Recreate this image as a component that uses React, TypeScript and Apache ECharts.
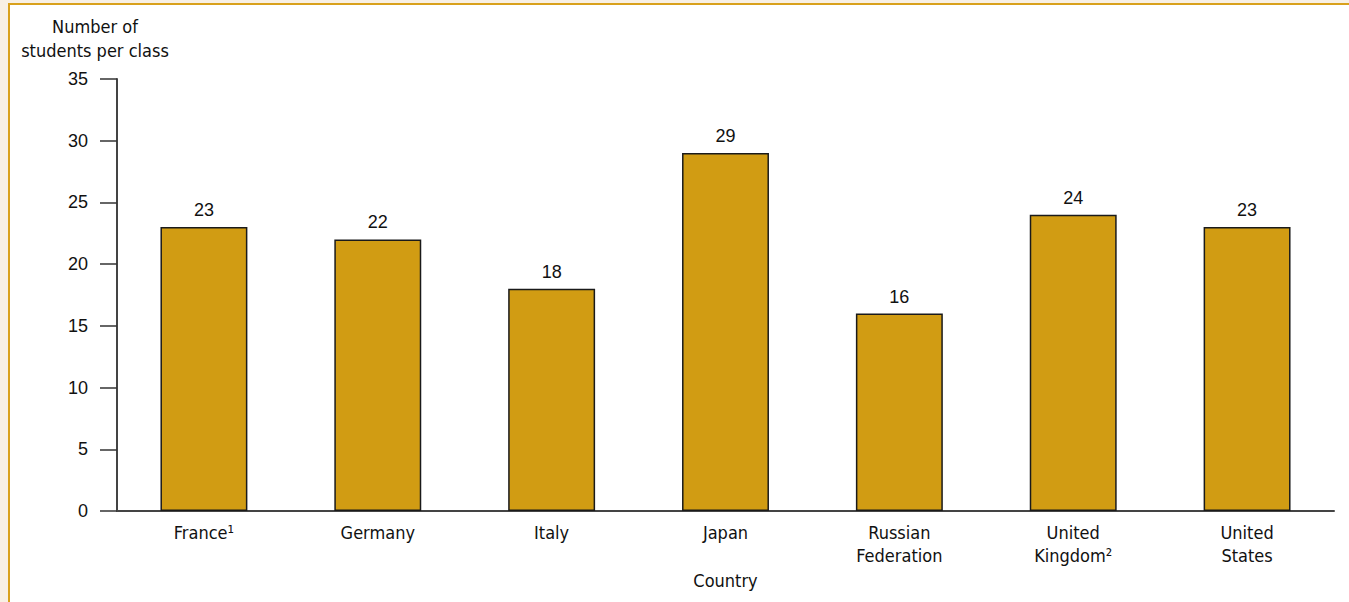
import React, { useEffect, useRef } from "react";
import * as echarts from "echarts";

const categories = ["France¹", "Germany", "Italy", "Japan", "Russian\nFederation", "United\nKingdom²", "United\nStates"];
const studentsPerClass = [23, 22, 18, 29, 16, 24, 23];
const yTicks = { min: 0, max: 35, interval: 5 };
const yAxisTitle = "Number of\nstudents per class";
const xAxisTitle = "Country";

const FONT = "'DejaVu Sans Condensed', 'Liberation Sans Narrow', sans-serif";
const NUMFONT = "'Liberation Sans', sans-serif";

export default function App() {
  const ref = useRef<HTMLDivElement>(null);
  useEffect(() => {
    document.body.style.margin = "0";
    const chart = echarts.init(ref.current!, undefined, { renderer: "svg" });
    chart.setOption({
      animation: false,
      textStyle: { fontFamily: FONT },
      grid: { left: 117, right: 15, top: 79, bottom: 91 },
      graphic: [
        {
          type: "text",
          left: 20,
          top: 14,
          style: { text: yAxisTitle, font: `18px ${FONT}`, fill: "#111", textAlign: "center", lineHeight: 24, width: 150 },
        },
      ],
      xAxis: {
        type: "category",
        data: categories,
        name: xAxisTitle,
        nameLocation: "middle",
        nameGap: 60,
        nameTextStyle: { fontSize: 18, color: "#111", fontFamily: FONT },
        axisLine: { show: true, lineStyle: { color: "#444", width: 2 } },
        axisTick: { show: false },
        axisLabel: { fontSize: 18, color: "#111", lineHeight: 23, margin: 10, fontFamily: FONT },
      },
      yAxis: {
        type: "value",
        min: yTicks.min,
        max: yTicks.max,
        interval: yTicks.interval,
        axisLine: { show: true, lineStyle: { color: "#444", width: 2 } },
        axisTick: { show: true, length: 17, lineStyle: { color: "#333", width: 1.5 } },
        axisLabel: { fontSize: 18, color: "#111", margin: 29, fontFamily: NUMFONT },
        splitLine: { show: false },
      },
      series: [
        {
          type: "bar",
          data: studentsPerClass,
          barWidth: "50%",
          itemStyle: { color: "#d19c13", borderColor: "#1a1a1a", borderWidth: 1.5 },
          label: { show: true, position: "top", distance: 8, fontSize: 18, color: "#111", fontFamily: NUMFONT },
        },
      ],
    });
    return () => chart.dispose();
  }, []);
  return (
    <div style={{ position: "absolute", left: 0, top: 0, width: 1349, height: 602, background: "#f8f0e4", overflow: "hidden" }}>
      <div
        style={{
          position: "absolute",
          left: 8,
          top: 3,
          width: 1341,
          height: 599,
          background: "#ffffff",
          borderLeft: "2px solid #d9a11c",
          borderTop: "2px solid #d9a11c",
          boxSizing: "border-box",
        }}
      />
      <div ref={ref} style={{ position: "absolute", left: 0, top: 0, width: 1349, height: 602 }} />
    </div>
  );
}
